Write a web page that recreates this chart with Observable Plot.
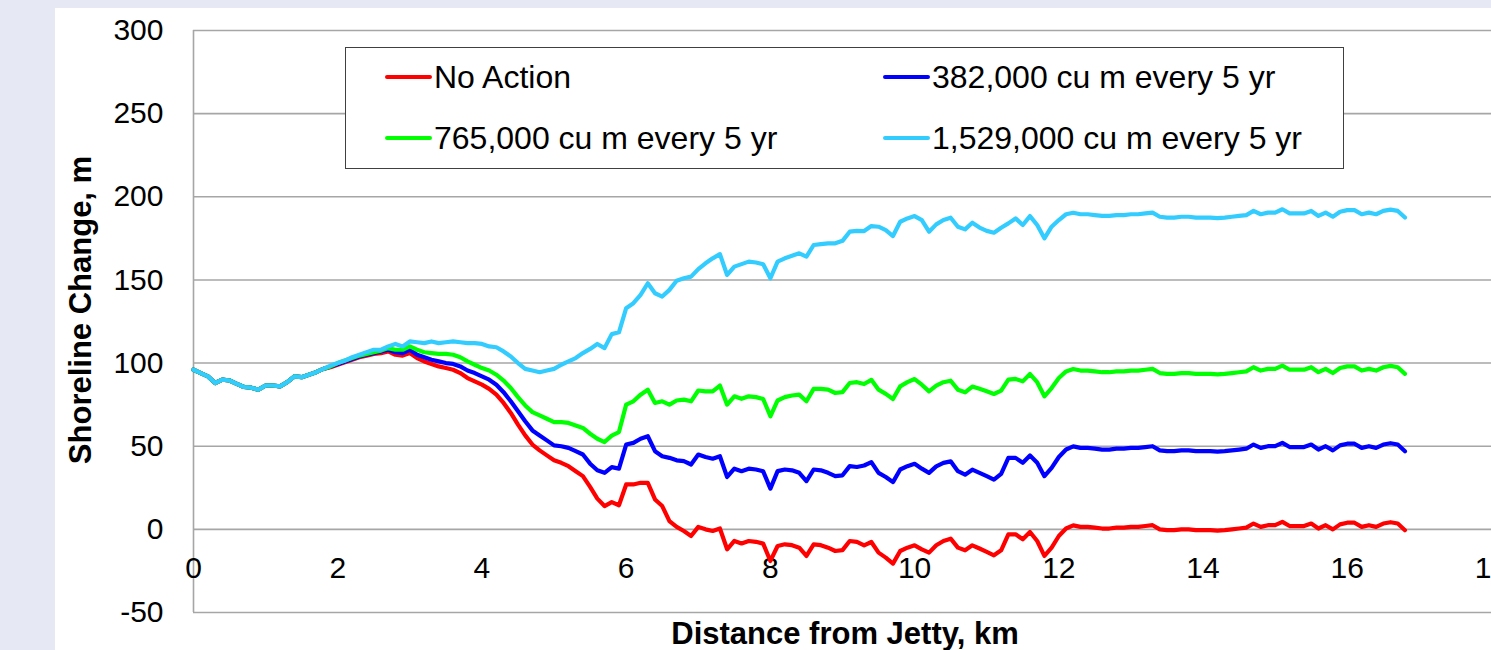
<!DOCTYPE html>
<html>
<head>
<meta charset="utf-8">
<script src="https://cdn.jsdelivr.net/npm/d3@7"></script>
<script src="https://cdn.jsdelivr.net/npm/@observablehq/plot@0.6"></script>
<style>
  html, body { margin: 0; padding: 0; }
  body { width: 1491px; height: 650px; overflow: hidden; position: relative;
         background: #e6e9f3; font-family: "Liberation Sans", Arial, sans-serif; color: #000; }
  #panel { position: absolute; left: 55px; top: 8px; width: 1436px; height: 642px; background: #fff; }
  #chart { position: absolute; left: 0; top: 0; }
  .ytitle { position: absolute; left: 80px; top: 310px; transform: translate(-50%, -50%) rotate(-90deg);
            font-weight: bold; font-size: 31px; line-height: 1; white-space: nowrap; }
  .xtitle { position: absolute; left: 845px; top: 633px; transform: translate(-50%, -50%);
            font-weight: bold; font-size: 31px; line-height: 1; white-space: nowrap; }
  .legend { position: absolute; left: 345px; top: 47px; width: 997px; height: 120px;
            border: 1.5px solid #404040; background: #fff; }
  .sw { position: absolute; width: 47px; height: 4.3px; border-radius: 2px; }
  .lt { position: absolute; font-size: 32px; line-height: 1; white-space: nowrap; transform: translateY(-50%); }
</style>
</head>
<body>
<div id="panel"></div>
<div id="chart"></div>
<div class="ytitle">Shoreline Change, m</div>
<div class="xtitle">Distance from Jetty, km</div>
<div id="legendHost"></div>
<script>
// ---------- data ----------
const dist = [0,0.1,0.2,0.3,0.4,0.5,0.6,0.7,0.8,0.9,1,1.1,1.2,1.3,1.4,1.5,1.6,1.7,1.8,1.9,
2,2.1,2.2,2.3,2.4,2.5,2.6,2.7,2.8,2.9,3,3.1,3.2,3.3,3.4,3.5,3.6,3.7,3.8,3.9,
4,4.1,4.2,4.3,4.4,4.5,4.6,4.7,4.8,4.9,5,5.1,5.2,5.3,5.4,5.5,5.6,5.7,5.8,5.9,
6,6.1,6.2,6.3,6.4,6.5,6.6,6.7,6.8,6.9,7,7.1,7.2,7.3,7.4,7.5,7.6,7.7,7.8,7.9,
8,8.1,8.2,8.3,8.4,8.5,8.6,8.7,8.8,8.9,9,9.1,9.2,9.3,9.4,9.5,9.6,9.7,9.8,9.9,
10,10.1,10.2,10.3,10.4,10.5,10.6,10.7,10.8,10.9,11,11.1,11.2,11.3,11.4,11.5,11.6,11.7,11.8,11.9,
12,12.1,12.2,12.3,12.4,12.5,12.6,12.7,12.8,12.9,13,13.1,13.2,13.3,13.4,13.5,13.6,13.7,13.8,13.9,
14,14.1,14.2,14.3,14.4,14.5,14.6,14.7,14.8,14.9,15,15.1,15.2,15.3,15.4,15.5,15.6,15.7,15.8,15.9,
16,16.1,16.2,16.3,16.4,16.5,16.6,16.7,16.8];

const noAction = [96,94,92,88,90,89.5,87.5,85.6,85.2,84,86.5,86.5,86,88.5,92,91.5,93,94.5,96.5,
97.5,99,100.5,102,103.5,104.5,105.5,106,107,105,104.5,
106,103,101,99.5,98,97,96,94,91,89,
87,84.5,81,76,70,63,56.5,51,47.5,44.5,
41.5,40,38,35,32,25.5,18.5,14,16.4,14.5,
27,27,28,28,18,14,5,1.5,-1,-4,
1.5,0,-1,0.5,-12,-7,-8.5,-7,-7.5,-8.6,
-19,-10,-9,-9.5,-11,-16,-9,-9.5,-11,-13,
-12.5,-7,-7.5,-9.6,-7.6,-14,-17,-20.6,-13,-11,
-9.6,-12,-14,-9.6,-7,-5.6,-11,-12.6,-9.6,-11.5,
-13.5,-15.6,-12.6,-3,-3,-6,-1.6,-7,-16,-11,
-4,0.5,2.4,1.5,1.5,1,0.5,0.5,1,1,
1.5,1.5,2,2.5,0,-0.5,-0.5,0,0,-0.5,
-0.5,-0.5,-0.8,-0.5,0,0.5,1,3.5,1.5,2.5,
2.5,4.5,2,2,2,3.5,0.5,2.5,0,3,
4,4,1.5,2.5,1.5,3.5,4.3,3.5,-0.5];

const vol382 = [96,94,92,88,90,89.5,87.5,85.6,85.2,84,86.5,86.5,86,88.5,92,91.5,93,94.5,96.5,
98,99.5,101,102.5,104,105,106,107,108,106.5,106,
108,105,103.5,102,101,100,99.5,98,95.5,94,
92,90,87,82.5,77,71,65,59.5,56.5,53.5,
50.5,50,49,47,45,39.5,35.5,34,37.4,36.5,
51,52,54.5,56,47,44,43,41.5,41,39,
45,43.5,42.5,44,31.5,36.5,35,36.5,36,34.9,
24.5,35,36,35.5,34,29,36,35.5,34,32,
32.5,38,37.5,38.4,40.4,34,31.5,28.4,36,38,
39.4,36.5,34,37.9,40,40.9,35,32.9,35.9,34,
32,29.9,33.4,43,43,40,44.4,40,32,37,
43.5,48,49.9,49,49,48.5,48,48,48.5,48.5,
49,49,49.5,50,47.5,47,47,47.5,47.5,47,
47,47,46.7,47,47.5,48,48.5,51,49,50,
50,52,49.5,49.5,49.5,51,48,50,47.5,50.5,
51.5,51.5,49,50,49,51,51.8,51,47];

const vol765 = [96,94,92,88,90,89.5,87.5,85.6,85.2,84,86.5,86.5,86,88.5,92,91.5,93,94.5,96.5,
98,100,101.5,103,104.5,105.5,106.5,107.5,109,108,108,
110,108,106.5,106,105.5,105.5,105,103.5,101,99,
97,95.5,93,89.5,85,79.5,74.5,70.5,68.5,66.5,
64.5,64.5,64,62.5,61,57.5,54.5,52.5,56.4,58.5,
75,77,81,84,76,77,75,77.5,78,77,
83.5,83,83,86.5,75,80,78.5,80,79.5,78.4,
68,77.5,79.5,80.5,81,77,84.5,84.5,84,82,
82.5,88,88.5,87.4,89.9,84,81.5,78.4,86,88.5,
90.4,87,83,86.4,88.5,89.4,84,82.4,85.9,84.5,
83,81.4,83.4,90,90.5,89,93.4,88.5,80,85,
91,95,96.4,95.5,95.5,95,94.5,94.5,95,95,
95.5,95.5,96,96.5,94,93.5,93.5,94,94,93.5,
93.5,93.5,93.2,93.5,94,94.5,95,97.5,95.5,96.5,
96.5,98.5,96,96,96,97.5,94.5,96.5,94,97,
98,98,95.5,96.5,95.5,97.5,98.3,97.5,93.5];

const vol1529 = [96,94,92,88,90,89.5,87.5,85.6,85.2,84,86.5,86.5,86,88.5,92,91.5,93,94.5,96.5,
98.5,100,101.5,103.5,105,106.5,108,108,110,111.5,110,
113,112.5,112,113,112,112.5,113,112.5,112,112,
111.5,110,109.5,107,104,100,96.5,95.5,94.5,95.5,
96.5,99,101,103,106,108.5,111.5,109,117.4,118.5,
133,136,141,148,142,140,144,149.5,151,152,
156.5,160,163,165.5,153,158,159.5,161,160.5,159.4,
151,161,163,164.5,166,164,171,171.5,172,172,
173.5,179,179.5,179.4,182.4,182,180,176.4,185,187,
188.4,186,179,183.4,186,187.4,182,180.4,184.4,181.5,
179.5,178.4,181.4,184,187,183,188.4,183,175,182,
186,189.5,190.4,189.5,189.5,189,188.5,188.5,189,189,
189.5,189.5,190,190.5,188,187.5,187.5,188,188,187.5,
187.5,187.5,187.2,187.5,188,188.5,189,191.5,189.5,190.5,
190.5,192.5,190,190,190,191.5,188.5,190.5,188,191,
192,192,189.5,190.5,189.5,191.5,192.3,191.5,187.5];

const seriesNames = ["No Action", "382,000 cu m every 5 yr", "765,000 cu m every 5 yr", "1,529,000 cu m every 5 yr"];
const xTicks = [0, 2, 4, 6, 8, 10, 12, 14, 16, 18];
const yTicks = [-50, 0, 50, 100, 150, 200, 250, 300];

// ---------- styling ----------
const palette = ["#ff0000", "#0000ff", "#00ff00", "#33ccff"];
const seriesValues = [noAction, vol382, vol765, vol1529];

const table = [];
seriesValues.forEach((vals, s) => {
  vals.forEach((v, i) => table.push({dist: dist[i], value: v, series: seriesNames[s]}));
});

const lineMarks = seriesNames.map((name, s) =>
  Plot.line(table.filter(d => d.series === name), {
    x: "dist", y: "value", stroke: palette[s], strokeWidth: 4.2,
    strokeLinejoin: "round", strokeLinecap: "round"
  })
);

const chart = Plot.plot({
  width: 1491,
  height: 650,
  marginLeft: 193,
  marginRight: 0,
  marginTop: 30,
  marginBottom: 38,
  style: {background: "transparent", fontFamily: "Liberation Sans, Arial, sans-serif", color: "#000", overflow: "hidden"},
  x: {domain: [0, 18], axis: null},
  y: {domain: [-50, 300], axis: null},
  marks: [
    Plot.gridY(yTicks, {stroke: "#a6a6a6", strokeOpacity: 1, strokeWidth: 1.6}),
    Plot.ruleX([0], {stroke: "#a6a6a6", strokeWidth: 1.6}),
    Plot.axisY(yTicks, {tickSize: 0, tickPadding: 30, fontSize: 30, tickFormat: d => String(d), fill: "#000", label: null}),
    Plot.text(xTicks, {x: d => d, y: 0, dy: 39, text: d => String(d), fontSize: 30, fill: "#000"}),
    ...lineMarks
  ]
});
document.getElementById("chart").appendChild(chart);

// ---------- legend (HTML, drawn inside the plot area) ----------
const host = document.getElementById("legendHost");
const box = document.createElement("div");
box.className = "legend";
host.appendChild(box);
const colX = [385, 883];
const rowY = [77, 138];
seriesNames.forEach((name, k) => {
  const c = k % 2, r = Math.floor(k / 2);
  const sw = document.createElement("div");
  sw.className = "sw";
  sw.style.left = colX[c] + "px";
  sw.style.top = (rowY[r] - 2) + "px";
  sw.style.background = palette[k];
  host.appendChild(sw);
  const t = document.createElement("div");
  t.className = "lt";
  t.style.left = (colX[c] + 49) + "px";
  t.style.top = rowY[r] + "px";
  t.textContent = name;
  host.appendChild(t);
});
</script>
</body>
</html>
